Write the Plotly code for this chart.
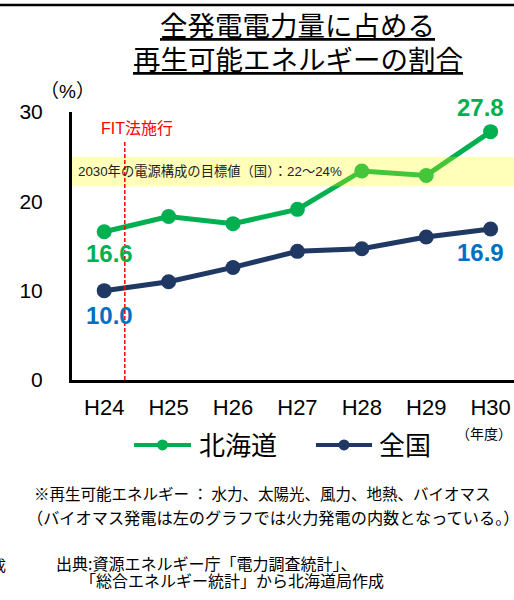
import plotly.graph_objects as go

# ---- data ----
categories = ["H24", "H25", "H26", "H27", "H28", "H29", "H30"]
hokkaido = [16.6, 18.3, 17.5, 19.1, 23.4, 22.9, 27.8]
national = [10.0, 11.0, 12.6, 14.4, 14.7, 16.0, 16.9]
y_ticks = [0, 10, 20, 30]
target_low, target_high = 21.7, 25.0
fit_x = 0.32          # FIT法施行 (position between H24 and H25)
fit_top = 26.8

GREEN = "#00B050"
NAVY = "#1F3864"
BLUE = "#0070C0"
JP = "Noto Sans CJK JP"
LAT = "Liberation Sans, Arial, Noto Sans CJK JP"

# plot area in pixels
W, Hh = 514, 600
L, R, T, B = 72, 514, 111.7, 380


def px(x):
    return (x - L) / (R - L)


def py(y):
    return (B - y) / (B - T)


fig = go.Figure()
fig.add_trace(go.Scatter(x=categories, y=hokkaido, mode="lines+markers",
                         line=dict(color=GREEN, width=5),
                         marker=dict(color=GREEN, size=15),
                         name="北海道", showlegend=False, hoverinfo="skip"))
fig.add_trace(go.Scatter(x=categories, y=national, mode="lines+markers",
                         line=dict(color=NAVY, width=5),
                         marker=dict(color=NAVY, size=15),
                         name="全国", showlegend=False, hoverinfo="skip"))

shapes = []
# top rule
shapes.append(dict(type="line", xref="paper", yref="paper", x0=px(0), x1=px(514),
                   y0=py(4.5), y1=py(4.5), line=dict(color="black", width=2.5)))
# target band (semi-transparent, above lines)
shapes.append(dict(type="rect", xref="paper", yref="y", x0=0, x1=1,
                   y0=target_low, y1=target_high, fillcolor="rgba(255,255,0,0.27)",
                   line=dict(width=0), layer="above"))
# FIT line
shapes.append(dict(type="line", xref="x", yref="y", x0=fit_x, x1=fit_x,
                   y0=0, y1=fit_top, line=dict(color="#FF0000", width=1.5, dash="4px,2px"),
                   layer="above"))
# manual legend
for (x0, x1, xm, col) in [(134, 191, 162.5, GREEN), (316, 372, 344, NAVY)]:
    shapes.append(dict(type="line", xref="paper", yref="paper", x0=px(x0), x1=px(x1),
                       y0=py(445), y1=py(445), line=dict(color=col, width=4)))
    r = 5.5
    shapes.append(dict(type="circle", xref="paper", yref="paper", x0=px(xm - r), x1=px(xm + r),
                       y0=py(445 + r), y1=py(445 - r), fillcolor=col, line=dict(width=0)))

ann = []


def note(text, x, y, size, color="black", xanchor="center", family=JP):
    ann.append(dict(text=text, xref="paper", yref="paper", x=px(x), y=py(y),
                    xanchor=xanchor, yanchor="middle", showarrow=False,
                    font=dict(family=family, size=size, color=color)))


note("<u>全発電電力量に占める</u>", 297, 24, 27.5)
note("<u>再生可能エネルギーの割合</u>", 297.5, 58, 27.5)
note("（%）", 67, 91, 19, family=LAT)
note("FIT法施行", 137, 128, 16, "#FF0000", family=LAT)
note("2030年の電源構成の目標値（国）：22～24%", 76, 171, 13.3, "#222222", "left", LAT)
note("（年度）", 484, 433, 14)
note("北海道", 197, 444, 26, xanchor="left")
note("全国", 377, 444, 26, xanchor="left")
note("※再生可能エネルギー ： 水力、太陽光、風力、地熱、バイオマス", 32, 493, 15.5, xanchor="left")
note("（バイオマス発電は左のグラフでは火力発電の内数となっている。）", 25, 517, 16.2, xanchor="left")
note("出典:資源エネルギー庁「電力調査統計」、", 54, 563, 16, xanchor="left")
note("「総合エネルギー統計」から北海道局作成", 78, 580, 16, xanchor="left")
note("成", 8, 565, 15, xanchor="right")

# value labels
for (idx, series, col, xs, ys) in [(0, hokkaido, GREEN, 5, -22), (6, hokkaido, GREEN, -10.5, 24),
                                   (0, national, BLUE, 5, -24.5), (6, national, BLUE, -10, -23)]:
    ann.append(dict(text=f"{series[idx]:.1f}", x=categories[idx], y=series[idx],
                    xref="x", yref="y", xshift=xs, yshift=ys, showarrow=False,
                    xanchor="center", yanchor="middle",
                    font=dict(family=LAT, size=24, color=col, weight="bold")))

fig.update_layout(
    width=W, height=Hh, autosize=False,
    margin=dict(l=L, r=W - R, t=T, b=Hh - B, pad=0),
    paper_bgcolor="white", plot_bgcolor="white",
    shapes=shapes, annotations=ann, hovermode=False,
    xaxis=dict(type="category", range=[-0.5, 6.363],
               showgrid=False, zeroline=False, showline=True, linecolor="black", linewidth=3,
               ticks="", tickfont=dict(family=LAT, size=22, color="black"),
               ticklabelstandoff=6),
    yaxis=dict(range=[0, 30], tickvals=y_ticks, showgrid=False, zeroline=False,
               showline=True, linecolor="black", linewidth=3, ticks="",
               tickfont=dict(family=LAT, size=21, color="black"), ticklabelstandoff=22),
)

fig.write_html("out.html", config={"displayModeBar": False},
               post_script="document.body.style.margin='0';")
